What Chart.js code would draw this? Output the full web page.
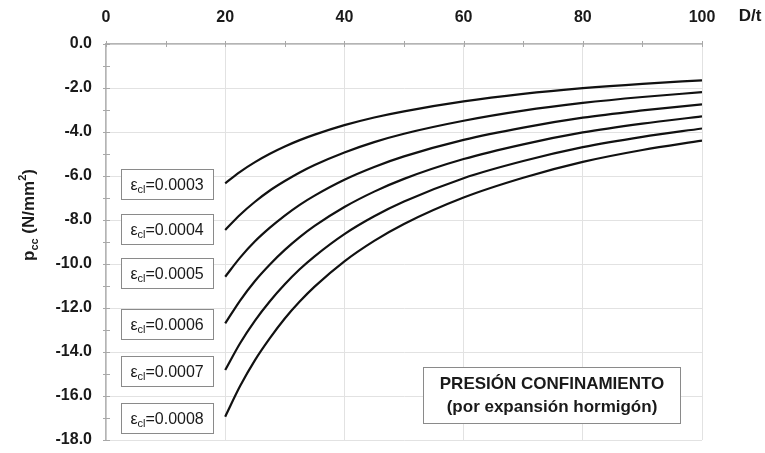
<!doctype html>
<html lang="es">
<head>
  <meta charset="UTF-8">
  <title>Presión de confinamiento</title>
  <script src="https://cdn.jsdelivr.net/npm/chart.js"></script>
  <style>
    html, body { margin: 0; padding: 0; background: #fff; }
    #wrap { width: 765px; height: 453px; }
  </style>
</head>
<body>
<div id="wrap"><canvas id="pcc"></canvas></div>
<script>
  // D/t values where the curves were read
  const dtValues = [20, 22.5, 25, 27.5, 30, 32.5, 35, 40, 45, 50, 60, 70, 80, 90, 100];

  // p_cc (N/mm2) for each strain value
  const p0003 = [-6.33, -5.81, -5.37, -4.99, -4.66, -4.37, -4.12, -3.69, -3.34, -3.06, -2.61, -2.27, -2.01, -1.81, -1.65];
  const p0004 = [-8.45, -7.76, -7.17, -6.66, -6.23, -5.84, -5.50, -4.93, -4.46, -4.08, -3.49, -3.03, -2.68, -2.41, -2.19];
  const p0005 = [-10.58, -9.71, -8.97, -8.35, -7.80, -7.31, -6.89, -6.17, -5.59, -5.11, -4.36, -3.80, -3.35, -3.02, -2.74];
  const p0006 = [-12.70, -11.66, -10.77, -10.02, -9.36, -8.78, -8.27, -7.41, -6.71, -6.13, -5.23, -4.56, -4.02, -3.62, -3.29];
  const p0007 = [-14.82, -13.60, -12.57, -11.69, -10.92, -10.24, -9.65, -8.64, -7.83, -7.16, -6.10, -5.32, -4.69, -4.22, -3.84];
  const p0008 = [-16.94, -15.55, -14.37, -13.37, -12.48, -11.71, -11.03, -9.88, -8.95, -8.18, -6.98, -6.08, -5.36, -4.82, -4.39];

  const strainLabels = ['0.0003', '0.0004', '0.0005', '0.0006', '0.0007', '0.0008'];
  const series = [p0003, p0004, p0005, p0006, p0007, p0008];

  const titleLines = ['PRESIÓN CONFINAMIENTO', '(por expansión hormigón)'];

  const FONT = '"Liberation Sans", Arial, Helvetica, sans-serif';
  // y value (data units) of the centre of each label box
  const boxY = [-6.36, -8.41, -10.41, -12.73, -14.86, -17.0];

  const extras = {
    id: 'extras',
    afterDatasetsDraw(chart) {
      const ctx = chart.ctx;
      const xs = chart.scales.x, ys = chart.scales.y;
      const top = chart.chartArea.top, left = chart.chartArea.left;
      ctx.save();

      // minor ticks
      ctx.strokeStyle = '#a8a8a8';
      ctx.lineWidth = 1;
      ctx.beginPath();
      for (let v = 0; v <= 100; v += 10) {
        const px = Math.round(xs.getPixelForValue(v)) + 0.5;
        ctx.moveTo(px, top - 3); ctx.lineTo(px, top + 3);
      }
      for (let v = 0; v >= -18; v -= 1) {
        const py = Math.round(ys.getPixelForValue(v)) + 0.5;
        ctx.moveTo(left - 3, py); ctx.lineTo(left + 4, py);
      }
      ctx.stroke();

      // strain label boxes
      const bx0 = xs.getPixelForValue(2.5), bx1 = xs.getPixelForValue(18.0);
      strainLabels.forEach((s, i) => {
        const cy = ys.getPixelForValue(boxY[i]);
        ctx.fillStyle = '#fff';
        ctx.strokeStyle = '#8a8a8a';
        ctx.lineWidth = 1;
        ctx.fillRect(bx0, cy - 15, bx1 - bx0, 30);
        ctx.strokeRect(Math.round(bx0) + 0.5, Math.round(cy - 15) + 0.5, Math.round(bx1 - bx0), 30);
        ctx.fillStyle = '#1a1a1a';
        ctx.textBaseline = 'alphabetic';
        ctx.textAlign = 'left';
        const main = '16px ' + FONT, sub = '11px ' + FONT;
        ctx.font = main; const wE = ctx.measureText('ε').width;
        const rest = '=' + s; const wR = ctx.measureText(rest).width;
        ctx.font = sub; const wS = ctx.measureText('cl').width;
        let x = (bx0 + bx1) / 2 - (wE + wS + wR) / 2;
        const base = cy + 6;
        ctx.font = main; ctx.fillText('ε', x, base); x += wE;
        ctx.font = sub; ctx.fillText('cl', x, base + 3); x += wS;
        ctx.font = main; ctx.fillText(rest, x, base);
      });

      // title box
      ctx.fillStyle = '#fff';
      ctx.fillRect(423, 367, 257, 56);
      ctx.strokeStyle = '#8a8a8a';
      ctx.strokeRect(423.5, 367.5, 257, 56);
      ctx.fillStyle = '#1a1a1a';
      ctx.font = 'bold 17px ' + FONT;
      ctx.textAlign = 'center';
      ctx.textBaseline = 'middle';
      ctx.fillText(titleLines[0], 552, 384);
      ctx.fillText(titleLines[1], 552, 407);

      // x axis name
      ctx.font = 'bold 17px ' + FONT;
      ctx.fillText('D/t', 750, 16);

      // y axis title with sub/superscript
      ctx.translate(34, 215);
      ctx.rotate(-Math.PI / 2);
      ctx.textAlign = 'left';
      ctx.textBaseline = 'alphabetic';
      const big = 'bold 17px ' + FONT, small = 'bold 11px ' + FONT;
      const parts = [['p', big, 0], ['cc', small, 4], [' (N/mm', big, 0], ['2', small, -8], [')', big, 0]];
      let total = 0;
      parts.forEach(p => { ctx.font = p[1]; total += ctx.measureText(p[0]).width; });
      let tx = -total / 2;
      parts.forEach(p => {
        ctx.font = p[1];
        ctx.fillText(p[0], tx, p[2]);
        tx += ctx.measureText(p[0]).width;
      });
      ctx.restore();
    }
  };

  const datasets = series.map((arr, i) => ({
    label: strainLabels[i],
    data: dtValues.map((x, j) => ({x: x, y: arr[j]})),
    borderColor: '#111',
    borderWidth: 2.2,
    pointRadius: 0,
    fill: false,
    cubicInterpolationMode: 'monotone'
  }));

  new Chart(document.getElementById('pcc'), {
    type: 'line',
    data: {datasets: datasets},
    options: {
      responsive: true,
      maintainAspectRatio: false,
      animation: false,
      layout: {padding: {left: 0, right: 63, top: 0, bottom: 13}},
      plugins: {legend: {display: false}, tooltip: {enabled: false}},
      scales: {
        x: {
          type: 'linear',
          position: 'top',
          min: 0,
          max: 100,
          afterFit: s => { s.height = 44; s.paddingLeft = 0; s.paddingRight = 0; },
          ticks: {
            stepSize: 10,
            autoSkip: false,
            maxRotation: 0,
            padding: 17,
            color: '#1a1a1a',
            font: {family: FONT, size: 16, weight: 'bold'},
            callback: v => (v % 20 === 0 ? v : '')
          },
          grid: {
            drawTicks: false,
            color: c => (c.tick && c.tick.value % 20 === 0 ? '#e2e2e2' : 'rgba(0,0,0,0)')
          },
          border: {color: '#b4b4b4', width: 1.5}
        },
        y: {
          min: -18,
          max: 0,
          afterFit: s => { s.width = 106; s.paddingTop = 0; s.paddingBottom = 0; },
          ticks: {
            stepSize: 1,
            autoSkip: false,
            padding: 14,
            color: '#1a1a1a',
            font: {family: FONT, size: 16, weight: 'bold'},
            callback: v => (v % 2 === 0 ? v.toFixed(1) : '')
          },
          grid: {
            drawTicks: false,
            color: c => (c.tick && c.tick.value % 2 === 0 ? '#e2e2e2' : 'rgba(0,0,0,0)')
          },
          border: {color: '#b4b4b4', width: 1.5}
        }
      }
    },
    plugins: [extras]
  });
</script>
</body>
</html>
